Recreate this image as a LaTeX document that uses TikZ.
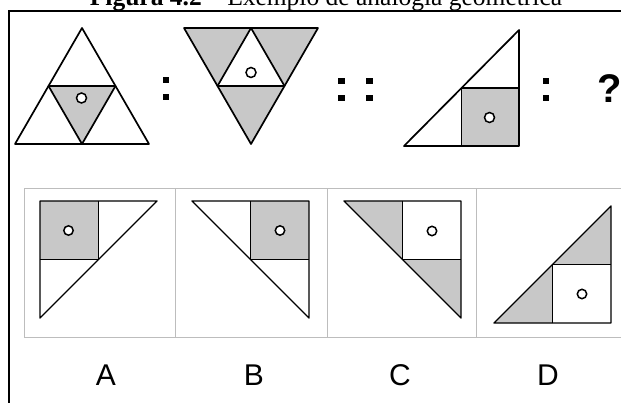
\documentclass[tikz,border=0pt]{standalone}
\usepackage{fontspec}
\setmainfont{Liberation Serif}
\newfontfamily\lettersans{Liberation Sans}
\begin{document}
\begin{tikzpicture}[x=1pt,y=-1pt,
  fig/.style={draw=black,line width=1.7pt,line join=round},
  ofig/.style={draw=black,line width=1.4pt,line join=round},
  shade/.style={fill=gshade},
  dotc/.style={draw=black,line width=1.5pt,fill=white},
  coldot/.style={fill=black},
  optbox/.style={draw=boxgray,line width=1pt},
  frame/.style={draw=black,line width=2pt},
  letter/.style={font=\lettersans\fontsize{30}{30}\selectfont,inner sep=0pt},
]
\definecolor{gshade}{HTML}{C8C8C8}
\definecolor{boxgray}{HTML}{BDBDBD}
\useasboundingbox (0,0) rectangle (621,403);
\clip (0,0) rectangle (621,403);
\fill[white] (0,0) rectangle (621,403);

% title (cut at top, as in the reference)
\node[anchor=base,inner sep=0pt,font=\fontsize{25.5}{25.5}\selectfont] (title) at (326,6) {\textbf{Figura 4.2} – Exemplo de analogia geométrica};
% frame
\draw[frame] (9,403) -- (9,11) -- (621,11);

% ---------- top row ----------
% figure 1: upward triangle
\coordinate (a1) at (82,28);
\coordinate (a2) at (15,144);
\coordinate (a3) at (149,144);
\coordinate (am1) at (48.5,86);
\coordinate (am2) at (115.5,86);
\coordinate (am3) at (82,144);
\fill[shade] (am1) -- (am2) -- (am3) -- cycle;
\draw[fig] (a1) -- (a2) -- (a3) -- cycle;
\draw[fig] (am1) -- (am2) -- (am3) -- cycle;
\draw[dotc] (81.5,98) circle (5pt);

% colon 1
\fill[coldot] (162.5,77.5) rectangle (168.5,83.5);
\fill[coldot] (162.5,94.5) rectangle (168.5,100.5);

% figure 2: inverted triangle
\coordinate (b1) at (184,28);
\coordinate (b2) at (318,28);
\coordinate (b3) at (251,144);
\coordinate (bm1) at (251,28);
\coordinate (bm2) at (217.5,86);
\coordinate (bm3) at (284.5,86);
\fill[shade] (b1) -- (bm1) -- (bm2) -- cycle;
\fill[shade] (bm1) -- (b2) -- (bm3) -- cycle;
\fill[shade] (bm2) -- (bm3) -- (b3) -- cycle;
\draw[fig] (b1) -- (b2) -- (b3) -- cycle;
\draw[fig] (bm1) -- (bm2) -- (bm3) -- cycle;
\draw[dotc] (251,72.5) circle (5pt);

% double colon
\fill[coldot] (338,78) rectangle (344.5,84.5);
\fill[coldot] (338,95) rectangle (344.5,101.5);
\fill[coldot] (366,78) rectangle (372.5,84.5);
\fill[coldot] (366,95) rectangle (372.5,101.5);

% figure 3: right triangle
\coordinate (c1) at (404,146);
\coordinate (c2) at (519,146);
\coordinate (c3) at (519,30);
\coordinate (cs1) at (461.5,88);
\coordinate (cs2) at (519,88);
\coordinate (cs3) at (461.5,146);
\fill[shade] (cs1) rectangle (c2);
\draw[fig] (c1) -- (c2) -- (c3) -- cycle;
\draw[fig] (cs3) -- (cs1) -- (cs2);
\draw[dotc] (489.5,117.5) circle (5pt);

% colon 3
\fill[coldot] (543,78) rectangle (549,84);
\fill[coldot] (543,95) rectangle (549,101);

% question mark
\node[inner sep=0pt,anchor=base,font=\lettersans\bfseries\fontsize{40}{40}\selectfont] (q) at (610,103) {?};

% ---------- options ----------
\draw[optbox] (24,189) -- (630,189);
\draw[optbox] (24,337) -- (630,337);
\draw[optbox] (24,189) -- (24,337);
\draw[optbox] (175,189) -- (175,337);
\draw[optbox] (327,189) -- (327,337);
\draw[optbox] (476,189) -- (476,337);

% A
\coordinate (A0) at (40,201);
\coordinate (A1) at (157,201);
\coordinate (A2) at (40,318);
\fill[shade] (40,201) rectangle (98.5,259.5);
\draw[ofig] (A0) -- (A1) -- (A2) -- cycle;
\draw[ofig] (98.5,201) -- (98.5,259.5) -- (40,259.5);
\draw[dotc] (68.5,230.5) circle (4.7pt);

% B
\coordinate (B0) at (309,201);
\coordinate (B1) at (192,201);
\coordinate (B2) at (309,318);
\fill[shade] (250.5,201) rectangle (309,259.5);
\draw[ofig] (B0) -- (B1) -- (B2) -- cycle;
\draw[ofig] (250.5,201) -- (250.5,259.5) -- (309,259.5);
\draw[dotc] (280,230.5) circle (4.7pt);

% C
\coordinate (C0) at (461,201);
\coordinate (C1) at (344,201);
\coordinate (C2) at (461,318);
\fill[shade] (344,201) -- (402.5,201) -- (402.5,259.5) -- cycle;
\fill[shade] (402.5,259.5) -- (461,259.5) -- (461,318) -- cycle;
\draw[ofig] (C0) -- (C1) -- (C2) -- cycle;
\draw[ofig] (402.5,201) -- (402.5,259.5) -- (461,259.5);
\draw[dotc] (432,231) circle (4.7pt);

% D
\coordinate (D0) at (611,323);
\coordinate (D1) at (494,323);
\coordinate (D2) at (611,206);
\fill[shade] (494,323) -- (552.5,323) -- (552.5,264.5) -- cycle;
\fill[shade] (552.5,264.5) -- (611,264.5) -- (611,206) -- cycle;
\draw[ofig] (D0) -- (D1) -- (D2) -- cycle;
\draw[ofig] (552.5,323) -- (552.5,264.5) -- (611,264.5);
\draw[dotc] (582,294) circle (4.7pt);

% letters
\node[letter,anchor=base] (la) at (106,385) {A};
\node[letter,anchor=base] (lb) at (254,385) {B};
\node[letter,anchor=base] (lc) at (400,385) {C};
\node[letter,anchor=base] (ld) at (548,385) {D};
\end{tikzpicture}
\end{document}
